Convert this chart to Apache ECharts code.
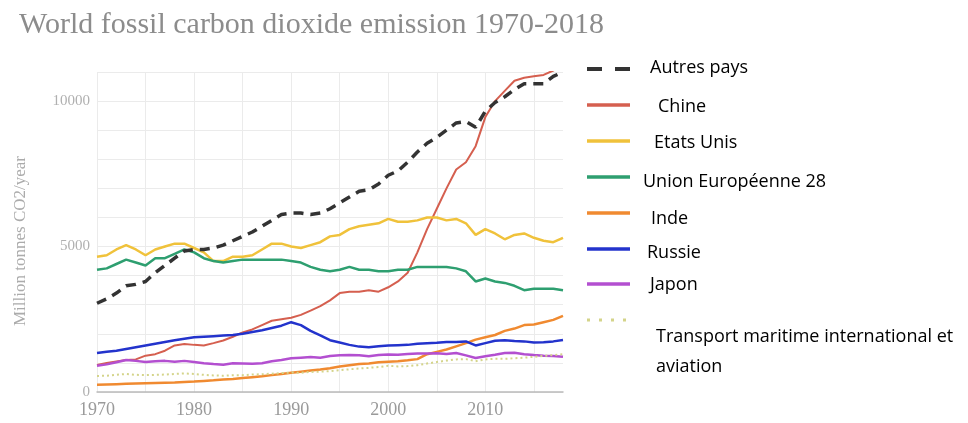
<!DOCTYPE html>
<html>
<head>
<meta charset="utf-8">
<script src="https://cdn.jsdelivr.net/npm/echarts@6/dist/echarts.min.js"></script>
<style>
html,body{margin:0;padding:0;background:#fff;}
#chart{width:968px;height:423px;}
</style>
</head>
<body>
<div id="chart"></div>
<script>
const years = [];
for (let y = 1970; y <= 2018; y++) years.push(String(y));

const autresPays = [3050,3200,3400,3650,3700,3800,4100,4350,4600,4850,4900,4900,4950,5050,5200,5350,5500,5700,5900,6100,6150,6150,6100,6150,6300,6500,6700,6900,6950,7150,7450,7600,7900,8250,8550,8750,9000,9250,9300,9100,9650,9950,10150,10400,10600,10600,10600,10850,11000];
const chine = [930,1000,1050,1100,1120,1250,1300,1420,1600,1650,1620,1600,1680,1770,1900,2050,2150,2300,2450,2500,2550,2650,2800,2950,3150,3400,3450,3450,3500,3450,3600,3800,4100,4800,5600,6300,7000,7650,7900,8450,9450,10000,10350,10700,10800,10850,10900,11050,11250];
const etatsUnis = [4650,4700,4900,5050,4900,4700,4900,5000,5100,5100,4950,4800,4500,4500,4650,4650,4700,4900,5100,5100,5000,4950,5050,5150,5350,5400,5600,5700,5750,5800,5950,5850,5850,5900,6000,6000,5900,5950,5800,5400,5600,5450,5250,5400,5450,5300,5200,5150,5300];
const ue28 = [4200,4250,4400,4550,4450,4350,4600,4600,4750,4900,4800,4600,4500,4450,4500,4550,4550,4550,4550,4550,4500,4450,4300,4200,4150,4200,4300,4200,4200,4150,4150,4200,4200,4300,4300,4300,4300,4250,4150,3800,3900,3800,3750,3650,3500,3550,3550,3550,3500];
const inde = [250,260,270,280,290,300,310,320,330,345,360,380,400,430,450,480,510,540,580,620,660,700,740,770,820,880,920,960,980,1020,1040,1060,1090,1130,1300,1380,1460,1570,1680,1800,1880,1960,2100,2180,2300,2320,2400,2480,2620];
const russie = [1340,1380,1420,1480,1540,1600,1660,1720,1780,1830,1880,1900,1920,1940,1960,2000,2060,2120,2200,2280,2400,2300,2100,1950,1780,1700,1620,1560,1540,1570,1600,1610,1620,1660,1680,1690,1720,1720,1740,1600,1680,1760,1780,1750,1740,1700,1710,1740,1790];
const japon = [900,950,1020,1100,1070,1030,1060,1070,1040,1070,1030,990,960,940,990,980,970,990,1060,1100,1160,1180,1200,1180,1240,1260,1270,1260,1230,1270,1290,1280,1310,1320,1320,1330,1310,1340,1260,1170,1230,1280,1340,1350,1300,1270,1250,1240,1210];
const transport = [550,560,590,620,590,580,590,600,620,640,620,590,570,560,580,580,600,610,630,650,670,660,690,700,720,750,780,810,830,860,900,880,890,920,980,1030,1080,1120,1130,1060,1120,1140,1140,1160,1180,1210,1240,1270,1300];

const yTicks = [0, 5000, 10000];
const xLabelYears = ['1970','1980','1990','2000','2010'];

const names = ['Autres pays','Chine','Etats Unis','Union Européenne 28','Inde','Russie','Japon','Transport maritime international et aviation'];
const colors = ['#333333','#d55f4f','#f0c23b','#2e9f70','#f08a30','#2333cc','#b34fd0','#d4d48a'];
const dataSets = [autresPays, chine, etatsUnis, ue28, inde, russie, japon, transport];
const widths = [3.5,2,2.5,2.5,2.5,2.5,2.5,2];
const dashes = [[10,7],null,null,null,null,null,null,[2,3]];

const series = dataSets.map((d,i) => ({
  name: names[i],
  type: 'line',
  data: d,
  symbol: 'none',
  z: i === 0 ? 3 : 2,
  lineStyle: { color: colors[i], width: widths[i], type: dashes[i] || 'solid' },
  itemStyle: { color: colors[i] }
}));

// legend layout (graphic)
const legLineY = [69,105,141,177,213,249,284,320];
const legTextY = [68,107,143,182,219,253,285,337];
const legTextX = [650,658,654,643,651,647,650,656];
const legLabels = ['Autres pays','Chine','Etats Unis','Union Européenne 28','Inde','Russie','Japon','Transport maritime international et'];
const graphics = [];
legLabels.forEach((t,i) => {
  graphics.push({
    type: 'line',
    shape: { x1: 587, y1: legLineY[i], x2: 630, y2: legLineY[i] },
    style: {
      stroke: colors[i],
      lineWidth: i === 0 ? 4 : (i === 7 ? 3 : 3.5),
      lineDash: i === 0 ? [15,13] : (i === 7 ? [3,9] : null)
    }
  });
  graphics.push({
    type: 'text',
    x: legTextX[i], y: legTextY[i],
    style: { text: t, font: '18px "Open Sans"', fill: '#000', textVerticalAlign: 'middle' }
  });
});
graphics.push({
  type: 'text', x: 656, y: 367,
  style: { text: 'aviation', font: '18px "Open Sans"', fill: '#000', textVerticalAlign: 'middle' }
});

const chart = echarts.init(document.getElementById('chart'));
chart.setOption({
  animation: false,
  backgroundColor: '#fff',
  title: {
    text: 'World fossil carbon dioxide emission 1970-2018',
    left: 14, top: 5,
    textStyle: { fontFamily: 'Liberation Serif', fontSize: 30, fontWeight: 'normal', color: '#8c8c8c' }
  },
  grid: { left: 97, right: 405, top: 72, bottom: 31, containLabel: false },
  xAxis: {
    type: 'category',
    data: years,
    boundaryGap: false,
    axisLine: { show: true, lineStyle: { color: '#bbbbbb', width: 1.5 } },
    axisTick: { show: false },
    axisLabel: {
      interval: (idx, val) => xLabelYears.includes(val),
      fontFamily: 'Liberation Serif', fontSize: 18, color: '#9a9a9a', margin: 9
    },
    splitLine: {
      show: true,
      interval: (idx) => idx % 5 === 0,
      lineStyle: { color: '#ebebeb', width: 1 }
    }
  },
  yAxis: {
    type: 'value',
    min: 0, max: 11000, interval: 1000,
    name: 'Million tonnes CO2/year',
    nameLocation: 'middle',
    nameGap: 68,
    nameRotate: 90,
    nameTextStyle: { fontFamily: 'Liberation Serif', fontSize: 17, color: '#ababab', padding: [0,0,0,-18] },
    axisLine: { show: false },
    axisTick: { show: false },
    axisLabel: {
      formatter: v => yTicks.includes(v) ? String(v) : '',
      fontFamily: 'Liberation Serif', fontSize: 15, color: '#b0b0b0', margin: 7
    },
    splitLine: { show: true, lineStyle: { color: '#ebebeb', width: 1 } }
  },
  series: series,
  graphic: graphics
});
</script>
</body>
</html>
